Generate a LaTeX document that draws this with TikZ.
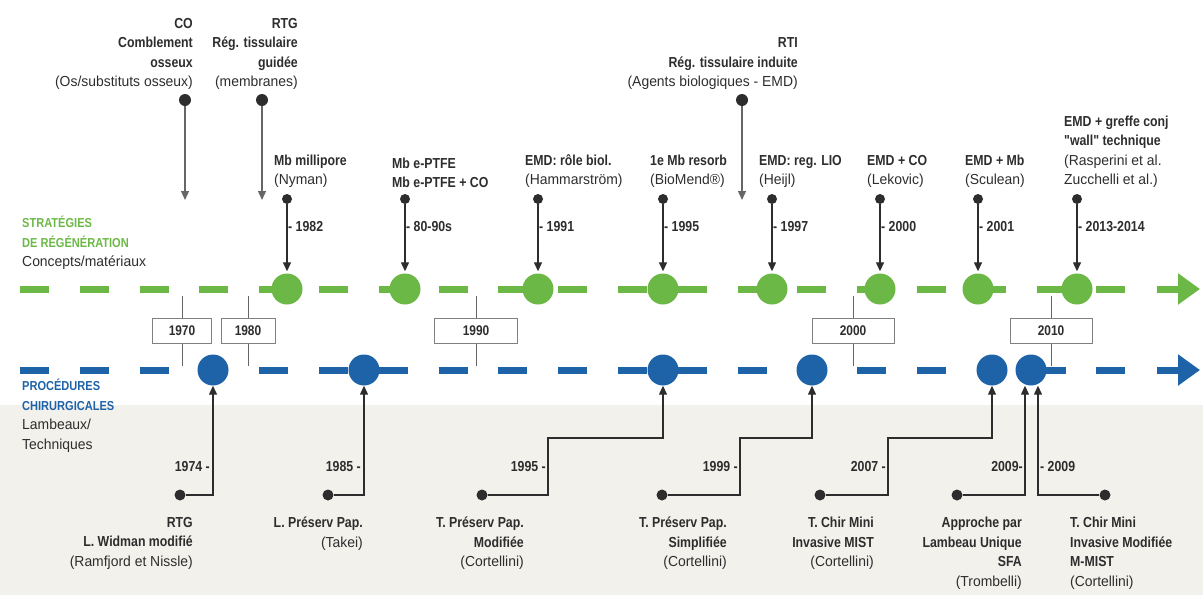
\documentclass[tikz,border=0pt]{standalone}
\usepackage{fontspec}
\setmainfont{Liberation Sans}[Ligatures=TeXOff,FakeStretch=0.96,BoldFeatures={FakeStretch=0.85}]
\usetikzlibrary{arrows.meta}

\definecolor{regGreen}{RGB}{108,184,70}
\definecolor{procBlue}{RGB}{30,98,168}
\definecolor{paper}{RGB}{243,241,236}
\definecolor{ink}{RGB}{45,45,45}

\tikzset{
  gline/.style={regGreen, line width=7pt},
  bline/.style={procBlue, line width=7pt},
  gdot/.style={circle, fill=regGreen, minimum size=31pt, inner sep=0pt},
  bdot/.style={circle, fill=procBlue, minimum size=31pt, inner sep=0pt},
  dotmark/.style={circle, fill=ink, minimum size=11pt, inner sep=0pt},
  arr/.style={draw=ink, line width=1.3pt, -{Triangle[length=9pt,width=8pt]}},
  yeartick/.style={draw=black!60, line width=1pt},
  yearbox/.style={draw=black!50, fill=white, line width=1pt, minimum height=25pt,
    inner sep=0pt, text=ink, font=\bfseries\fontsize{14}{16}\selectfont},
  evtext/.style={inner sep=0pt, text=ink, font=\fontsize{14.5}{19.5}\selectfont},
  yrtext/.style={inner sep=0pt, text=ink, font=\bfseries\fontsize{14.5}{17}\selectfont},
  head/.style={inner sep=0pt, align=left, font=\bfseries\fontsize{13}{19.5}\selectfont}
}

\begin{document}
\begin{tikzpicture}[x=1pt, y=-1pt]
  \useasboundingbox (0,0) rectangle (1203,595);
  \fill[paper] (0,405) rectangle (1203,595);

  % the two time lines
  \draw[gline, dash pattern=on 29pt off 30.8pt] (20,289) -- (1127,289);
  \draw[gline, -{Triangle[length=22pt,width=30pt]}] (1157,289) -- (1200,289);
  \draw[bline, dash pattern=on 29pt off 30.8pt] (20,370) -- (1127,370);
  \draw[bline, -{Triangle[length=22pt,width=30pt]}] (1157,370) -- (1200,370);

  % decades
  \foreach \x/\yr/\w in {182/1970/59, 248/1980/54, 476/1990/83, 853/2000/82, 1051/2010/82} {
    \draw[yeartick] (\x,296) -- (\x,366);
    \node[yearbox, minimum width=\w pt] (d\yr) at (\x,331) {\yr};
  }

  \node[head, text=regGreen, anchor=south west] (stratHead) at (22,270)
    {STRATÉGIES\\DE RÉGÉNÉRATION\\\textcolor{ink}{\mdseries\fontsize{14.5}{19.5}\selectfont Concepts/matériaux}};
  \node[head, text=procBlue, anchor=north west] (procHead) at (22,379)
    {PROCÉDURES\\CHIRURGICALES\\\textcolor{ink}{\mdseries\fontsize{14.5}{19.5}\selectfont Lambeaux/}\\\textcolor{ink}{\mdseries\fontsize{14.5}{19.5}\selectfont Techniques}};

  % concepts
  \node[dotmark, minimum size=12pt] (coDot) at (185,100) {};
  \coordinate (coEnd) at (185,200);
  \draw[arr, draw=black!60] (coDot) -- (coEnd);
  \node[evtext, align=right, anchor=south east] (coText) at (193,90)
    {\textbf{CO}\\\textbf{Comblement}\\\textbf{osseux}\\(Os/substituts osseux)};

  \node[dotmark, minimum size=12pt] (rtgDot) at (262,100) {};
  \coordinate (rtgEnd) at (262,200);
  \draw[arr, draw=black!60] (rtgDot) -- (rtgEnd);
  \node[evtext, align=right, anchor=south east] (rtgText) at (298,90)
    {\textbf{RTG}\\\textbf{Rég. tissulaire}\\\textbf{guidée}\\(membranes)};

  \node[dotmark, minimum size=12pt] (rtiDot) at (742,100) {};
  \coordinate (rtiEnd) at (742,200);
  \draw[arr, draw=black!60] (rtiDot) -- (rtiEnd);
  \node[evtext, align=right, anchor=south east] (rtiText) at (798,90)
    {\textbf{RTI}\\\textbf{Rég. tissulaire induite}\\(Agents biologiques - EMD)};

  % regeneration strategies
  \foreach \x/\yr/\txt in {
      287/1982/{\textbf{Mb millipore}\\(Nyman)},
      405/80-90s/{\textbf{Mb e-PTFE}\\\textbf{Mb e-PTFE + CO}},
      538/1991/{\textbf{EMD: rôle biol.}\\(Hammarström)},
      663/1995/{\textbf{1e Mb resorb}\\(BioMend®)},
      772/1997/{\textbf{EMD: reg. LIO}\\(Heijl)},
      880/2000/{\textbf{EMD + CO}\\(Lekovic)},
      978/2001/{\textbf{EMD + Mb}\\(Sculean)},
      1077/2013-2014/{\textbf{EMD + greffe conj}\\\textbf{"wall" technique}\\(Rasperini et al.\\Zucchelli et al.)}} {
    \node[gdot] (g\x) at (\x,289) {};
    \node[dotmark, minimum size=10pt] (t\x) at (\x,199) {};
    \draw[arr, shorten >=2pt] (t\x) -- (g\x);
    \node[yrtext, anchor=west] (yl\x) at (\x+1,227) {- \yr};
    \node[evtext, align=left, anchor=south west] (tx\x) at (\x-13,188) {\txt};
  }

  % surgical procedures
  \node[bdot] (b74) at (213,370) {};
  \node[dotmark] (p74) at (180,495) {};
  \draw[arr] (p74) -| (b74);
  \node[yrtext, anchor=east] (yr74) at (210,467) {1974 -};
  \node[evtext, align=right, anchor=north east] (tx74) at (193,517)
    {\textbf{RTG}\\\textbf{L. Widman modifié}\\(Ramfjord et Nissle)};

  \node[bdot] (b85) at (364,370) {};
  \node[dotmark] (p85) at (328,495) {};
  \draw[arr] (p85) -| (b85);
  \node[yrtext, anchor=east] (yr85) at (361,467) {1985 -};
  \node[evtext, align=right, anchor=north east] (tx85) at (363,517)
    {\textbf{L. Préserv Pap.}\\(Takei)};

  \node[bdot] (b95) at (663,370) {};
  \node[dotmark] (p95) at (482,495) {};
  \coordinate (k95) at (548,438);
  \draw[arr] (p95) -| (k95) -| (b95);
  \node[yrtext, anchor=east] (yr95) at (546,467) {1995 -};
  \node[evtext, align=right, anchor=north east] (tx95) at (524,517)
    {\textbf{T. Préserv Pap.}\\\textbf{Modifiée}\\(Cortellini)};

  \node[bdot] (b99) at (812,370) {};
  \node[dotmark] (p99) at (662,495) {};
  \coordinate (k99) at (740,438);
  \draw[arr] (p99) -| (k99) -| (b99);
  \node[yrtext, anchor=east] (yr99) at (738,467) {1999 -};
  \node[evtext, align=right, anchor=north east] (tx99) at (727,517)
    {\textbf{T. Préserv Pap.}\\\textbf{Simplifiée}\\(Cortellini)};

  \node[bdot] (b07) at (992,370) {};
  \node[dotmark] (p07) at (820,495) {};
  \coordinate (k07) at (888,438);
  \draw[arr] (p07) -| (k07) -| (b07);
  \node[yrtext, anchor=east] (yr07) at (886,467) {2007 -};
  \node[evtext, align=right, anchor=north east] (tx07) at (874,517)
    {\textbf{T. Chir Mini}\\\textbf{Invasive MIST}\\(Cortellini)};

  \node[bdot] (b09) at (1031,370) {};
  \node[dotmark] (p09a) at (957,495) {};
  \node[dotmark] (p09b) at (1105,495) {};
  \draw[arr] (p09a) -| ([xshift=-6pt]b09.south);
  \draw[arr] (p09b) -| ([xshift=7pt]b09.south);
  \node[yrtext, anchor=east] (yr09a) at (1023,467) {2009-};
  \node[yrtext, anchor=west] (yr09b) at (1040,467) {- 2009};
  \node[evtext, align=right, anchor=north east] (tx09a) at (1022,517)
    {\textbf{Approche par}\\\textbf{Lambeau Unique}\\\textbf{SFA}\\(Trombelli)};
  \node[evtext, align=left, anchor=north west] (tx09b) at (1070,517)
    {\textbf{T. Chir Mini}\\\textbf{Invasive Modifiée}\\\textbf{M-MIST}\\(Cortellini)};
\end{tikzpicture}
\end{document}
